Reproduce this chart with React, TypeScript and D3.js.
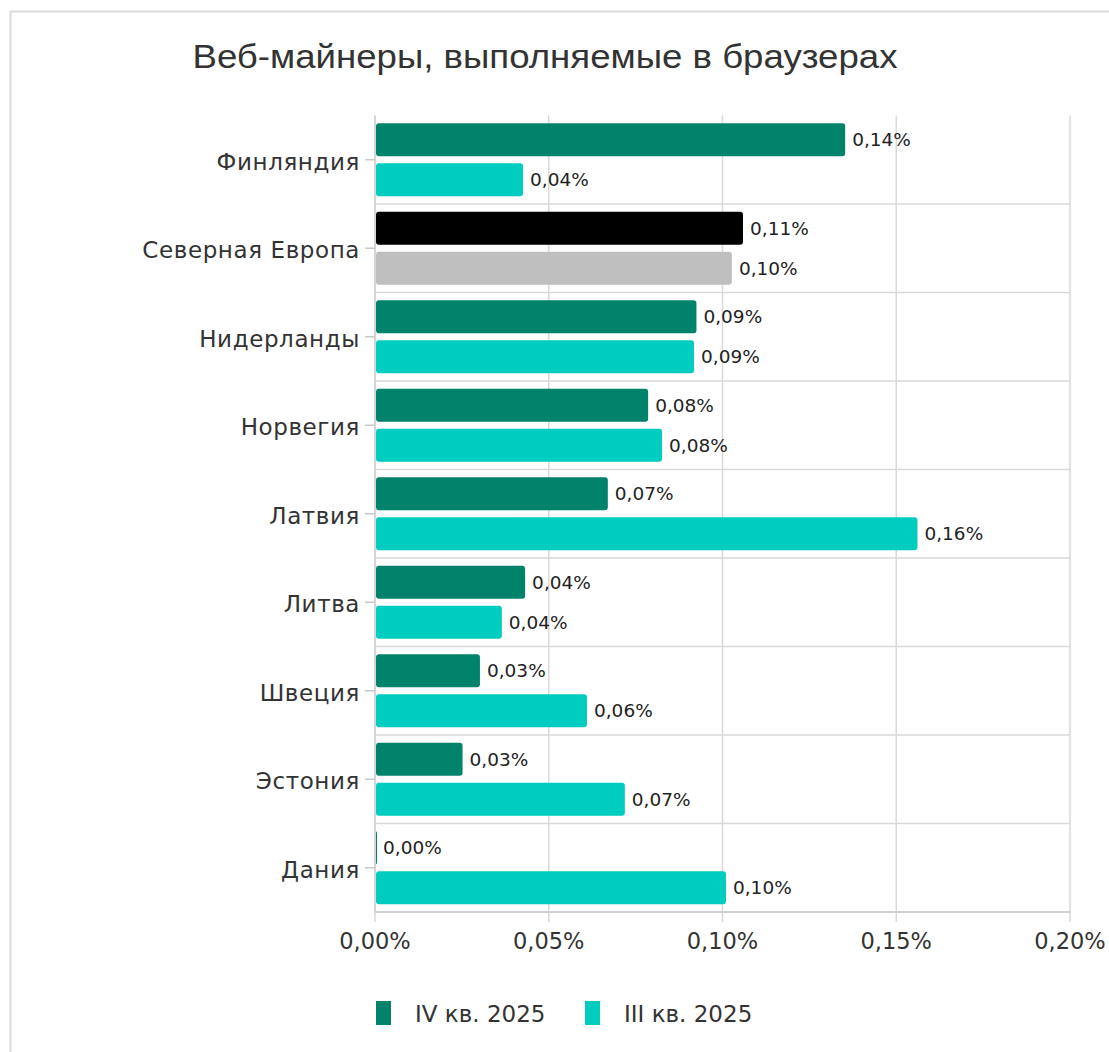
import React from "react";
import * as d3 from "d3";

const categories = [
  "Финляндия",
  "Северная Европа",
  "Нидерланды",
  "Норвегия",
  "Латвия",
  "Литва",
  "Швеция",
  "Эстония",
  "Дания",
];
const q4Values = [0.1353, 0.1059, 0.0925, 0.0786, 0.067, 0.0432, 0.0302, 0.0252, 0.0003];
const q3Values = [0.0426, 0.1027, 0.0918, 0.0826, 0.1561, 0.0365, 0.061, 0.0719, 0.101];
const xTicks = [0, 0.05, 0.1, 0.15, 0.2];
const seriesNames = ["IV кв. 2025", "III кв. 2025"];
const q4Colors = ["#00826b", "#000000", "#00826b", "#00826b", "#00826b", "#00826b", "#00826b", "#00826b", "#00826b"];
const q3Colors = ["#00ccc0", "#bfbfbf", "#00ccc0", "#00ccc0", "#00ccc0", "#00ccc0", "#00ccc0", "#00ccc0", "#00ccc0"];
const legendColors = ["#00826b", "#00ccc0"];

const W = 1109;
const H = 1052;
const left = 375;
const right = 1070;
const top = 115.5;
const bottom = 912;
const font = "'DejaVu Sans', 'Noto Sans', sans-serif";

const fmt = (v: number) => d3.format(".2f")(v).replace(".", ",") + "%";

export default function App() {
  const x = d3.scaleLinear().domain([0, 0.2]).range([left, right]);
  const y = d3.scaleBand().domain(categories).range([top, bottom]).paddingInner(0).paddingOuter(0);
  const bw = y.bandwidth();
  const barH = 33;
  const gap = 7;
  const offset = (bw - 2 * barH - gap) / 2;

  return (
    <svg width={W} height={H} style={{ position: "absolute", left: 0, top: 0 }}>
      <rect x={0} y={0} width={W} height={H} fill="#fff" />
      <line x1={10.5} y1={11} x2={10.5} y2={H} stroke="#dcdcdc" strokeWidth={2} />
      <line x1={10} y1={11.5} x2={W} y2={11.5} stroke="#dcdcdc" strokeWidth={2} />
      <text
        x={545}
        y={68}
        textAnchor="middle"
        fontFamily="'Liberation Sans Narrow', 'Liberation Sans', Arial, sans-serif"
        fontSize={33}
        fill="#333"
        textLength={705}
        lengthAdjust="spacingAndGlyphs"
      >
        Веб-майнеры, выполняемые в браузерах
      </text>

      {xTicks.map((t) => (
        <line key={"g" + t} x1={x(t)} x2={x(t)} y1={top} y2={bottom + 10} stroke="#d9d9d9" strokeWidth={1.5} />
      ))}
      {categories.slice(1).map((c) => (
        <line key={"s" + c} x1={left} x2={right} y1={y(c)!} y2={y(c)!} stroke="#d9d9d9" strokeWidth={1.5} />
      ))}
      <line x1={left} x2={right} y1={bottom} y2={bottom} stroke="#d0d0d0" strokeWidth={2} />
      <line x1={left} x2={left} y1={top} y2={bottom} stroke="#d0d0d0" strokeWidth={1.5} />

      {categories.map((c, i) => {
        const y0 = y(c)!;
        const cy = y0 + bw / 2;
        const b1 = y0 + offset;
        const b2 = b1 + barH + gap;
        return (
          <g key={c}>
            <line x1={left - 10} x2={left} y1={cy} y2={cy} stroke="#c8c8c8" strokeWidth={1.5} />
            <text x={360} y={cy + 2} dominantBaseline="central" textAnchor="end" fontFamily={font} fontSize={23} letterSpacing={0.6} fill="#333">
              {c}
            </text>
            <rect x={left + 1} y={b1} width={Math.max(x(q4Values[i]) - left - 1, 1)} height={barH} rx={3} fill={q4Colors[i]} />
            <rect x={left + 1} y={b2} width={Math.max(x(q3Values[i]) - left - 1, 1)} height={barH} rx={3} fill={q3Colors[i]} />
            <text x={x(q4Values[i]) + 7} y={b1 + barH / 2} dominantBaseline="central" fontFamily={font} fontSize={18.5} fill="#222">
              {fmt(q4Values[i])}
            </text>
            <text x={x(q3Values[i]) + 7} y={b2 + barH / 2} dominantBaseline="central" fontFamily={font} fontSize={18.5} fill="#222">
              {fmt(q3Values[i])}
            </text>
          </g>
        );
      })}

      {xTicks.map((t) => (
        <text key={"t" + t} x={x(t)} y={941} dominantBaseline="central" textAnchor="middle" fontFamily={font} fontSize={22.5} fill="#333">
          {fmt(t)}
        </text>
      ))}

      {seriesNames.map((s, i) => {
        const lx = i === 0 ? 376 : 585;
        return (
          <g key={s}>
            <rect x={lx} y={1001} width={15} height={24} fill={legendColors[i]} />
            <text x={lx + 39} y={1014} dominantBaseline="central" fontFamily={font} fontSize={23} fill="#333">
              {s}
            </text>
          </g>
        );
      })}
    </svg>
  );
}
